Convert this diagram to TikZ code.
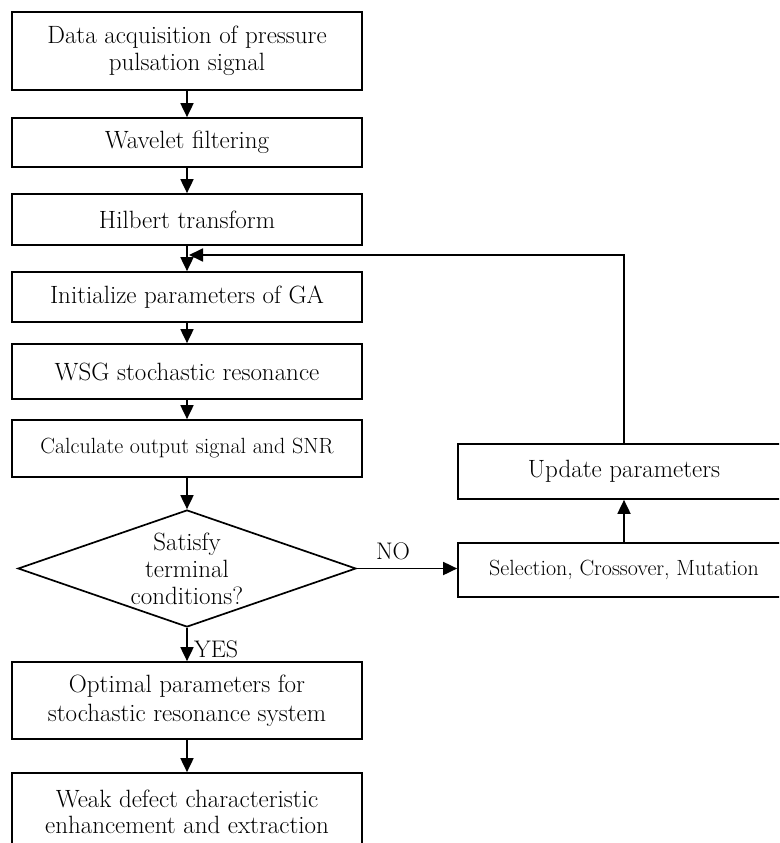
\documentclass[tikz,border=0pt]{standalone}
\usepackage{fontspec}
\setmainfont{Latin Modern Roman}
\usetikzlibrary{arrows.meta,shapes.geometric}
\begin{document}
\begin{tikzpicture}[x=1pt,y=-1pt,
  box/.style={draw,line width=1.7pt,minimum width=350pt,inner sep=0pt,align=center,font=\fontsize{25}{27}\selectfont},
  rbox/.style={draw,line width=1.7pt,minimum width=332pt,inner sep=0pt,align=center},
  arr/.style={line width=1.8pt,-{Triangle[length=14pt,width=13pt]}},
  lbl/.style={inner sep=0pt,font=\fontsize{24}{25}\selectfont}]
\clip (0,0) rectangle (779,843);
\fill[white] (0,0) rectangle (779,843);
\node[box,minimum height=78pt] (b1) at (187,51) {Data acquisition of pressure\\pulsation signal};
\node[box,minimum height=49pt] (b2) at (187,142.5) {Wavelet filtering};
\node[box,minimum height=51pt] (b3) at (187,219.5) {Hilbert transform};
\node[box,minimum height=50pt] (b4) at (187,297) {Initialize parameters of GA};
\node[box,minimum height=55pt] (b5) at (187,371.5) {WSG stochastic resonance};
\node[box,minimum height=57pt,font=\fontsize{22}{20}\selectfont] (b6) at (187,448.5) {Calculate output signal and SNR};
\node[draw,diamond,line width=1.7pt,minimum width=338pt,minimum height=117pt,inner sep=0pt] (d) at (187,568.5) {};
\node[align=center,inner sep=0pt,font=\fontsize{25}{27}\selectfont] (dt) at (187,569) {Satisfy\\terminal\\conditions?};
\node[box,minimum height=77pt,font=\fontsize{25}{29}\selectfont] (b7) at (187,700.5) {Optimal parameters for\\stochastic resonance system};
\node[box,minimum height=77pt,font=\fontsize{25}{26}\selectfont] (b8) at (187,811.5) {Weak defect characteristic\\enhancement and extraction};
\node[rbox,minimum height=55pt,font=\fontsize{25}{25}\selectfont] (up) at (624,471.5) {Update parameters};
\node[rbox,minimum height=54pt,font=\fontsize{22}{19}\selectfont] (sel) at (624,570) {Selection, Crossover, Mutation};
\coordinate (fb) at (189,255);
\draw[arr] (b1) -- (b2);
\draw[arr] (b2) -- (b3);
\draw[arr] (b3) -- (b4);
\draw[arr] (b4) -- (b5);
\draw[arr] (b5) -- (b6);
\draw[arr] (b6) -- (d);
\draw[arr] (d) -- (b7);
\draw[arr] (b7) -- (b8);
\draw[arr] (d.east) -- (sel.west |- d.east);
\draw[arr] (sel) -- (up);
\draw[arr] (up.north) |- (fb);
\node[lbl,anchor=south west] (yes) at (194,658) {YES};
\node[lbl,anchor=south] (no) at (393,560) {NO};
\end{tikzpicture}
\end{document}
